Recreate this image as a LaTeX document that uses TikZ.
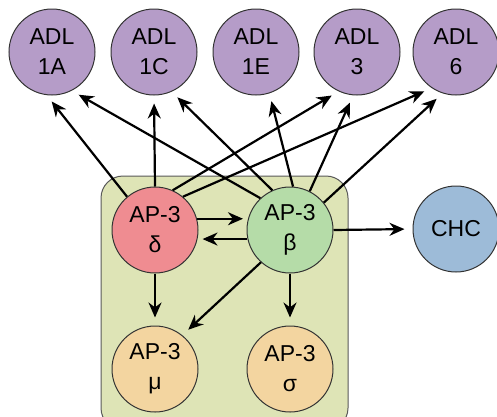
\documentclass[tikz,border=0pt]{standalone}
\usepackage{fontspec}
\setmainfont{Liberation Sans}
\usetikzlibrary{arrows.meta}
\definecolor{adlc}{HTML}{B59CC8}
\definecolor{delc}{HTML}{EF8C91}
\definecolor{betc}{HTML}{B5DCA8}
\definecolor{subc}{HTML}{F3D5A0}
\definecolor{chcc}{HTML}{9DBBD8}
\definecolor{boxc}{HTML}{DEE4B6}
\definecolor{edgec}{HTML}{333333}
\begin{document}
\begin{tikzpicture}[x=1pt,y=-1pt,
  bub/.style={circle, draw=edgec, line width=1pt, minimum size=86pt, inner sep=0pt, align=center, font=\fontsize{23}{30}\selectfont},
  arr/.style={line width=2.2pt, -{Stealth[length=15pt,width=13pt]}, shorten >=8pt},
  boxstyle/.style={fill=boxc, draw=black!65, line width=1pt, rounded corners=22pt}]
\useasboundingbox (0,0) rectangle (497,416);
\clip (0,0) rectangle (497,416);
\draw[boxstyle] (101,176) rectangle (348,430);
\node[bub, fill=adlc] (a1) at (52,52) {ADL\\1A};
\node[bub, fill=adlc] (c1) at (154,52) {ADL\\1C};
\node[bub, fill=adlc] (e1) at (256,52) {ADL\\1E};
\node[bub, fill=adlc] (a3) at (357,52) {ADL\\3};
\node[bub, fill=adlc] (a6) at (456,52) {ADL\\6};
\node[bub, fill=delc] (d) at (155,230) {AP-3\\δ};
\node[bub, fill=betc] (b) at (290,230) {AP-3\\β};
\node[bub, fill=subc] (mu) at (155,369) {AP-3\\μ};
\node[bub, fill=subc] (sg) at (290,369) {AP-3\\σ};
\node[bub, fill=chcc] (chc) at (456,229) {CHC};
\draw[arr] (d.130) -- (a1.263);
\draw[arr] (b.133) -- (a1.297);
\draw[arr] (d.90) -- (c1.270);
\draw[arr] (b.114) -- (c1.294);
\draw[arr] (b.86) -- (e1.288);
\draw[arr] (d.66) -- (a3.245);
\draw[arr] (b.63) -- (a3.265);
\draw[arr] (d.50) -- (a6.236);
\draw[arr] (b.39) -- (a6.252);
\draw[arr, shorten >=5pt] (d.15) -- (b.165);
\draw[arr, shorten >=5pt] (b.192) -- (d.348);
\draw[arr] (d.270) -- (mu.90);
\draw[arr] (b.270) -- (sg.90);
\draw[arr] (b.228) -- (mu.51);
\draw[arr] (b.0) -- (chc.180);
\end{tikzpicture}
\end{document}
